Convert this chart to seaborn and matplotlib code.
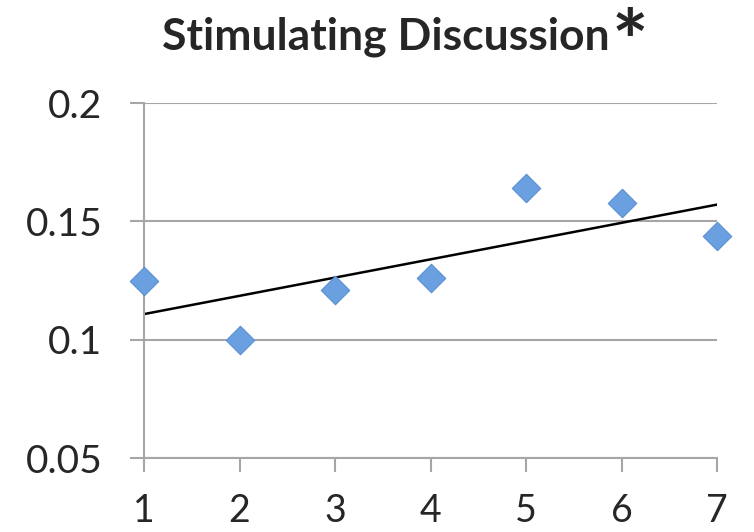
import numpy as np
import pandas as pd
import matplotlib
matplotlib.use("Agg")
import matplotlib.pyplot as plt
import seaborn as sns
from matplotlib.ticker import FuncFormatter

# values
weeks = [1, 2, 3, 4, 5, 6, 7]
scores = [0.125, 0.100, 0.121, 0.126, 0.164, 0.158, 0.144]
y_ticks = [0.05, 0.1, 0.15, 0.2]
title_text = "Stimulating Discussion"

df = pd.DataFrame({"week": weeks, "score": scores})

sns.set_style("white")
plt.rcParams["font.family"] = ["Lato", "DejaVu Sans"]

grid_color = "#a6a6a6"

fig = plt.figure(figsize=(7.54, 5.32), dpi=100)
ax = fig.add_axes([0.191, 0.139, 0.76, 0.667])

# trend line (least squares fit, no band)
sns.regplot(data=df, x="week", y="score", scatter=False, ci=None, ax=ax,
            line_kws={"color": "black", "lw": 1.8})

sns.scatterplot(data=df, x="week", y="score", marker="D", s=210,
                color="#6a9fe0", edgecolor="#5b8fd3", linewidth=0.8,
                ax=ax, clip_on=False, zorder=5)

ax.set_xlim(1, 7)
ax.set_ylim(0.05, 0.2)
ax.set_xticks(weeks)
ax.set_yticks(y_ticks)
ax.yaxis.set_major_formatter(FuncFormatter(lambda v, p: f"{v:g}"))
ax.set_xlabel("")
ax.set_ylabel("")

ax.yaxis.grid(True, color=grid_color, lw=1.5)
ax.set_axisbelow(True)
for side in ["top", "right"]:
    ax.spines[side].set_visible(False)
for side in ["left", "bottom"]:
    ax.spines[side].set_color(grid_color)
    ax.spines[side].set_linewidth(1.5)

ax.tick_params(axis="y", direction="out", length=10, width=1.5, color=grid_color,
               labelsize=28, pad=20, left=True)
ax.tick_params(axis="x", direction="out", length=10, width=1.5, color=grid_color,
               labelsize=27, pad=15, bottom=True)

# title with an oversized asterisk after it
t = fig.text(0.215, 0.907, title_text, fontsize=32, fontweight="bold", ha="left",
             va="baseline")
fig.canvas.draw()
bb = t.get_window_extent()
fig.text(bb.x1 / fig.bbox.width + 0.002, 0.864, "*", fontsize=62, fontweight="bold",
         ha="left", va="baseline")

fig.savefig("out.png", dpi=100)
